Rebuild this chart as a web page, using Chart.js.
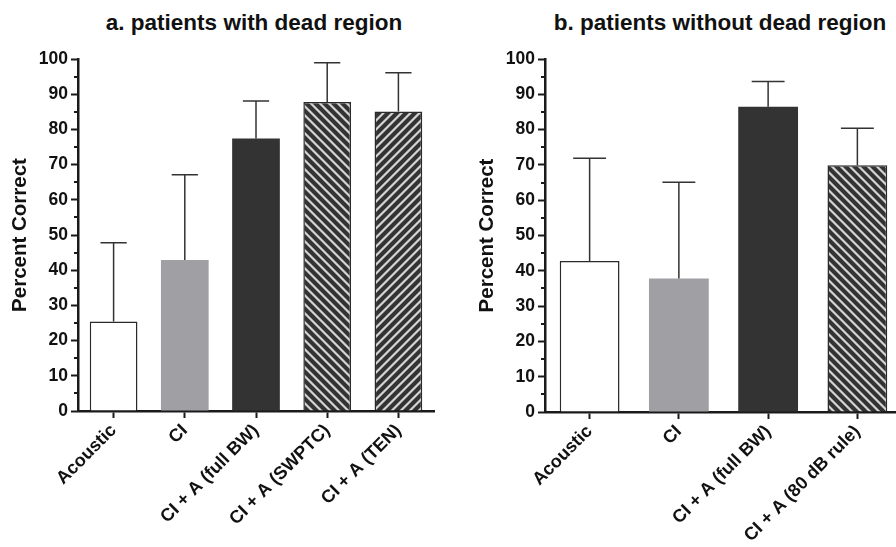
<!DOCTYPE html>
<html>
<head>
<meta charset="utf-8">
<script src="https://cdn.jsdelivr.net/npm/chart.js@4.4.0/dist/chart.umd.min.js"></script>
<style>
  body { margin:0; width:896px; height:547px; overflow:hidden; background:#fff; position:relative; font-family:"Liberation Sans", Arial, sans-serif; }
  .title { position:absolute; top:12px; width:400px; text-align:center; font-weight:bold; font-size:22.5px; line-height:22px; color:#111; }
  canvas { position:absolute; top:0; }
</style>
</head>
<body>
<div class="title" style="left:54px">a. patients with dead region</div>
<div class="title" style="left:520px">b. patients without dead region</div>
<canvas id="chartA" width="448" height="547" style="left:0"></canvas>
<canvas id="chartB" width="440" height="547" style="left:467px"></canvas>
<script>
// panel a
const labelsA = ["Acoustic", "CI", "CI + A (full BW)", "CI + A (SWPTC)", "CI + A (TEN)"];
const meansA = [25.4, 42.9, 77.4, 87.8, 85.1];
const sdA = [22.4, 24.2, 10.7, 11.1, 11.0];
// panel b
const labelsB = ["Acoustic", "CI", "CI + A (full BW)", "CI + A (80 dB rule)"];
const meansB = [42.8, 37.8, 86.5, 69.9];
const sdB = [29.1, 27.3, 7.1, 10.5];
// y axis
const yMin = 0, yMax = 100, yStep = 10;

const FONT = "'Liberation Sans', Arial, sans-serif";
const INK = '#1a1a1a';

// diagonal stripes, dir -1 = "\\\", dir 1 = "///"
function stripes(dir) {
  var c = document.createElement('canvas');
  c.width = 9; c.height = 9;
  var g = c.getContext('2d');
  var img = g.createImageData(9, 9);
  for (var y = 0; y < 9; y++) {
    for (var x = 0; x < 9; x++) {
      var d = (((dir > 0 ? x + y : x - y) % 9) + 9) % 9;
      var v = (d <= 1) ? 212 : (d == 2 || d == 8) ? 140 : 51;
      var k = (y * 9 + x) * 4;
      img.data[k] = v; img.data[k + 1] = v; img.data[k + 2] = v; img.data[k + 3] = 255;
    }
  }
  g.putImageData(img, 0, 0);
  return g.createPattern(c, 'repeat');
}

// upper error bars + minor y ticks
const extras = {
  id: 'extras',
  afterDatasetsDraw(chart) {
    const ctx = chart.ctx;
    const ys = chart.scales.y;
    const ds = chart.data.datasets[0];
    const meta = chart.getDatasetMeta(0);
    ctx.save();
    ctx.strokeStyle = '#333';
    ctx.lineWidth = 1.5;
    meta.data.forEach(function(bar, i) {
      const top = ys.getPixelForValue(ds.data[i]);
      const hi = ys.getPixelForValue(ds.data[i] + ds.sd[i]);
      const half = bar.width * 0.275;
      ctx.beginPath();
      ctx.moveTo(bar.x, top);
      ctx.lineTo(bar.x, hi);
      ctx.moveTo(bar.x - half, hi);
      ctx.lineTo(bar.x + half, hi);
      ctx.stroke();
    });
    ctx.strokeStyle = INK;
    ctx.lineWidth = 2;
    for (var v = yMin + yStep / 2; v < yMax; v += yStep) {
      const py = Math.round(ys.getPixelForValue(v));
      ctx.beginPath();
      ctx.moveTo(ys.right - 4, py);
      ctx.lineTo(ys.right, py);
      ctx.stroke();
    }
    ctx.restore();
  }
};

function barChart(id, labels, means, sds, colors, borders, plotBottom, padRight) {
  new Chart(id, {
    type: 'bar',
    data: {
      labels: labels,
      datasets: [{
        data: means,
        sd: sds,
        backgroundColor: colors,
        borderColor: '#2a2a2a',
        borderWidth: borders,
        barPercentage: 0.67,
        categoryPercentage: 1
      }]
    },
    options: {
      responsive: false,
      animation: false,
      layout: { padding: { top: 59, right: padRight, left: 0, bottom: 0 } },
      plugins: { legend: { display: false }, tooltip: { enabled: false } },
      scales: {
        x: {
          offset: true,
          grid: { display: true, offset: false, drawOnChartArea: false, tickLength: 7, tickWidth: 2, tickColor: INK },
          border: { display: true, width: 2.5, color: INK },
          ticks: { autoSkip: false, minRotation: 45, maxRotation: 45, padding: 2, color: '#111',
                   font: { family: FONT, size: 18, weight: 'bold' } },
          afterFit: function(s) { s.height = 547 - plotBottom; }
        },
        y: {
          min: yMin, max: yMax,
          grid: { display: true, drawOnChartArea: false, tickLength: 7, tickWidth: 2, tickColor: INK },
          border: { display: true, width: 2.5, color: INK },
          ticks: { stepSize: yStep, padding: 3, color: '#111', font: { family: FONT, size: 17.5, weight: 'bold' } },
          title: { display: true, text: 'Percent Correct', color: '#111',
                   font: { family: FONT, size: 20.5, weight: 'bold' }, padding: { top: 8, bottom: 0 } },
          afterFit: function(s) { s.width = 78; }
        }
      }
    },
    plugins: [extras]
  });
}

barChart('chartA', labelsA, meansA, sdA,
  ['#ffffff', '#a0a0a4', '#333333', stripes(-1), stripes(1)],
  [1.5, 0, 0, 1.5, 1.5], 411, 14);
barChart('chartB', labelsB, meansB, sdB,
  ['#ffffff', '#a0a0a4', '#333333', stripes(-1)],
  [1.5, 0, 0, 1.5], 412, 5);
</script>
</body>
</html>
